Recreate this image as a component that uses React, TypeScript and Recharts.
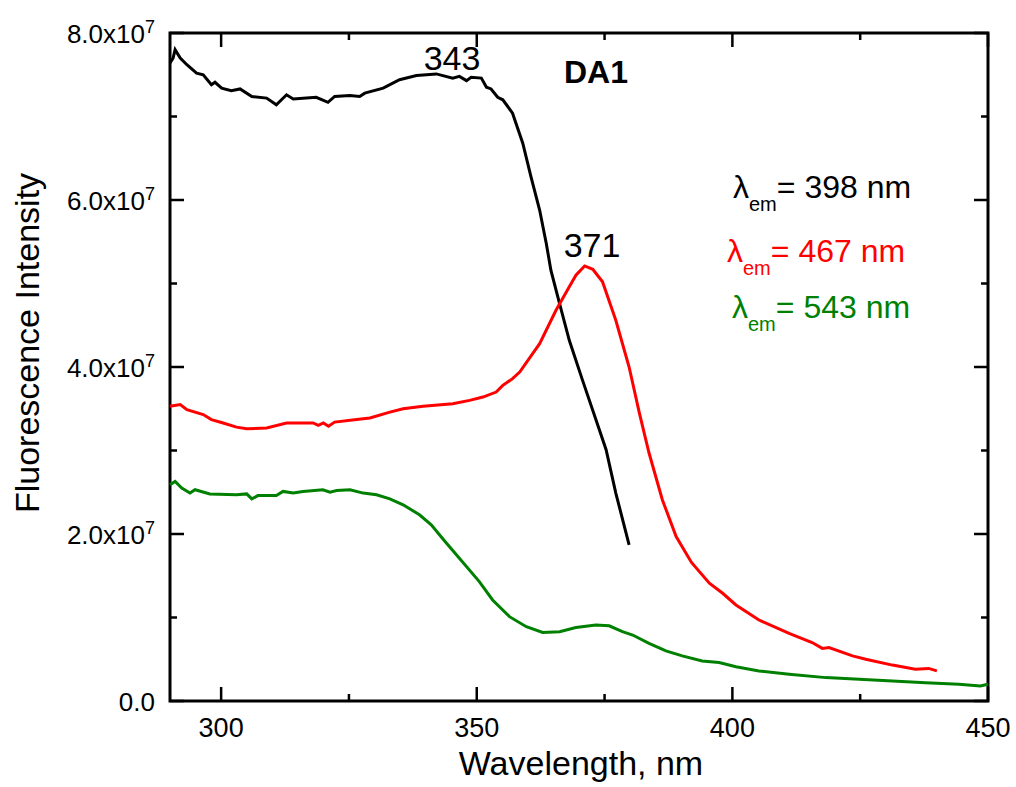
import { LineChart, Line, XAxis, YAxis, ReferenceArea } from "recharts";

// intensities are in units of 1e7
const BLACK_NM = [
  290, 290.6, 291, 292, 293.3, 295.2, 296.5, 298.1, 298.8, 300.1, 302, 303.7, 306, 308.9, 310.8, 312.8,
  314.1, 318.6, 320.9, 322.2, 325.2, 327.1, 328.1, 331.7, 334.9, 338.2, 342.1, 345.3, 346.6, 348, 348.9,
  350.9, 351.9, 352.8, 354.1, 355.1, 357, 359, 360.6, 362.3, 363.6, 364.5, 366.2, 368.1, 370.7, 373.3,
  375.3, 377.2, 379.8,
];
const BLACK_I = [
  7.64, 7.7, 7.8, 7.7, 7.62, 7.52, 7.5, 7.38, 7.41, 7.34, 7.31, 7.33, 7.24, 7.22, 7.14, 7.26,
  7.21, 7.23, 7.17, 7.24, 7.25, 7.24, 7.28, 7.34, 7.44, 7.49, 7.51, 7.46, 7.48, 7.43, 7.47,
  7.46, 7.35, 7.33, 7.23, 7.2, 7.04, 6.68, 6.28, 5.88, 5.48, 5.16, 4.76, 4.32, 3.84, 3.37,
  3.01, 2.49, 1.87,
];

const RED_NM = [
  290, 292, 293.3, 296.5, 298.1, 300.4, 303, 305, 308.9, 312.8, 318, 319, 320, 321, 322.2, 326.5,
  329.1, 333, 335.6, 339.5, 345.3, 348.6, 351.2, 353.8, 355.1, 357, 358.4, 362.3, 365.5, 368.1, 369.4,
  371.1, 372.7, 374.6, 377.2, 379.8, 381.8, 383.7, 386.3, 389, 392, 395.5, 398.1, 400.7, 405.2, 411.1,
  415.6, 417.6, 418.9, 423.5, 426.1, 431.3, 435.8, 438.4, 440,
];
const RED_I = [
  3.53, 3.55, 3.49, 3.43, 3.37, 3.33, 3.28, 3.26, 3.27, 3.33, 3.33, 3.3, 3.33, 3.29, 3.34, 3.37,
  3.39, 3.46, 3.5, 3.53, 3.56, 3.6, 3.64, 3.7, 3.78, 3.86, 3.94, 4.28, 4.68, 4.96, 5.1,
  5.21, 5.17, 5.02, 4.56, 4.0, 3.45, 2.97, 2.41, 1.97, 1.66, 1.41, 1.29, 1.15, 0.97, 0.81,
  0.7, 0.63, 0.64, 0.54, 0.5, 0.43, 0.38, 0.39, 0.36,
];

const GREEN_NM = [
  290, 291, 292.3, 293.9, 294.9, 297.8, 303, 305, 306, 307.2, 310.8, 312.1, 314.1, 316, 319.9, 321.3,
  322.6, 325.2, 327.8, 330.4, 333, 335.6, 338.8, 341.1, 343.8, 346.6, 350.5, 353.1, 356.4, 359.7, 362.9,
  366.2, 369.4, 373.3, 375.9, 378.5, 380.5, 383.7, 387, 390.2, 394.1, 397.4, 400.7, 405.2, 411.1, 418.3,
  424.8, 431.3, 437.8, 444.3, 448.5, 450,
];
const GREEN_I = [
  2.59, 2.63, 2.55, 2.49, 2.53, 2.48, 2.47, 2.48, 2.42, 2.46, 2.46, 2.51, 2.49, 2.51, 2.53, 2.5,
  2.52, 2.53, 2.49, 2.47, 2.42, 2.35, 2.23, 2.11, 1.91, 1.71, 1.43, 1.21, 1.01, 0.89, 0.82,
  0.83, 0.88, 0.91, 0.9, 0.83, 0.79, 0.69, 0.6, 0.54, 0.48, 0.46, 0.41, 0.36, 0.32, 0.28,
  0.26, 0.24, 0.22, 0.2, 0.18, 0.2,
];

const X_TICKS = [300, 325, 350, 375, 400, 425, 450];
const Y_TICKS = [0, 1, 2, 3, 4, 5, 6, 7, 8];

const toPoints = (xs: number[], ys: number[]) => xs.map((x, i) => ({ x, y: ys[i] }));
const blackData = toPoints(BLACK_NM, BLACK_I);
const redData = toPoints(RED_NM, RED_I);
const greenData = toPoints(GREEN_NM, GREEN_I);

const W = 1010;
const H = 787;
const M = { top: 33, right: 22, bottom: 0, left: 0 };
const Y_AXIS_W = 170;
const X_AXIS_H = 86;
const PLOT_TOP = M.top;
const PLOT_RIGHT = W - M.right;

const FONT = '"Liberation Sans", Arial, sans-serif';
const GREEN = "#008000";
const RED = "#ff0000";

const XTick = ({ x, y, payload }: any) => {
  const v = payload.value;
  const major = v % 50 === 0;
  const len = major ? 14 : 7;
  return (
    <g>
      <line x1={x} x2={x} y1={y} y2={y - len} stroke="#000" strokeWidth={2.5} />
      <line x1={x} x2={x} y1={PLOT_TOP} y2={PLOT_TOP + len} stroke="#000" strokeWidth={2.5} />
      {major && (
        <text x={x} y={y + 36} textAnchor="middle" fontSize={27} fontFamily={FONT} fill="#000">
          {v}
        </text>
      )}
    </g>
  );
};

const YTick = ({ x, y, payload }: any) => {
  const v = payload.value;
  const major = v % 2 === 0;
  const len = major ? 14 : 7;
  return (
    <g>
      <line x1={x} x2={x + len} y1={y} y2={y} stroke="#000" strokeWidth={2.5} />
      <line x1={PLOT_RIGHT} x2={PLOT_RIGHT - len} y1={y} y2={y} stroke="#000" strokeWidth={2.5} />
      {major && (
        <text x={x - 15} y={y + 10} textAnchor="end" fontSize={26} fontFamily={FONT} fill="#000">
          {v === 0 ? (
            "0.0"
          ) : (
            <>
              {v.toFixed(1)}x10
              <tspan dy={-10} fontSize={18}>
                7
              </tspan>
            </>
          )}
        </text>
      )}
    </g>
  );
};

const LegendLine = ({ x, y, color, text }: { x: number; y: number; color: string; text: string }) => (
  <text x={x} y={y} fill={color} fontSize={32} fontFamily={FONT}>
    λ
    <tspan dy={13} fontSize={20}>
      em
    </tspan>
    <tspan dy={-13}>{text}</tspan>
  </text>
);

export default function App() {
  return (
    <div style={{ position: "absolute", left: 0, top: 0, width: W, height: H, background: "#fff" }}>
      <LineChart width={W} height={H} margin={M}>
        <XAxis
          xAxisId={0}
          dataKey="x"
          type="number"
          domain={[290, 450]}
          ticks={X_TICKS}
          interval={0}
          height={X_AXIS_H}
          tickSize={0}
          tickMargin={0}
          axisLine={false}
          tickLine={false}
          tick={<XTick />}
        />
        <YAxis
          yAxisId={0}
          type="number"
          domain={[0, 8]}
          ticks={Y_TICKS}
          interval={0}
          width={Y_AXIS_W}
          tickSize={0}
          tickMargin={0}
          axisLine={false}
          tickLine={false}
          tick={<YTick />}
        />
        <Line data={blackData} dataKey="y" type="linear" stroke="#000" strokeWidth={3} dot={false} isAnimationActive={false} />
        <Line data={redData} dataKey="y" type="linear" stroke={RED} strokeWidth={3} dot={false} isAnimationActive={false} />
        <Line data={greenData} dataKey="y" type="linear" stroke={GREEN} strokeWidth={3} dot={false} isAnimationActive={false} />
        <ReferenceArea x1={290} x2={450} y1={0} y2={8} fill="none" fillOpacity={0} stroke="#000" strokeWidth={3} ifOverflow="visible" />
      </LineChart>
      <svg
        width={W}
        height={H}
        style={{ position: "absolute", left: 0, top: 0, pointerEvents: "none" }}
      >
        <text x={452} y={70} textAnchor="middle" fontSize={34} fontFamily={FONT} fill="#000">343</text>
        <text x={592} y={257} textAnchor="middle" fontSize={34} fontFamily={FONT} fill="#000">371</text>
        <text x={596} y={83} textAnchor="middle" fontSize={32} fontWeight="bold" fontFamily={FONT} fill="#000">DA1</text>
        <LegendLine x={733} y={198} color="#000" text="= 398 nm" />
        <LegendLine x={727} y={262} color={RED} text="= 467 nm" />
        <LegendLine x={732} y={318} color={GREEN} text="= 543 nm" />
        <text x={581} y={775} textAnchor="middle" fontSize={34} fontFamily={FONT} fill="#000">Wavelength, nm</text>
        <text
          transform="translate(39,343) rotate(-90)"
          textAnchor="middle"
          fontSize={34}
          fontFamily={FONT}
          fill="#000"
        >
          Fluorescence Intensity
        </text>
      </svg>
    </div>
  );
}
